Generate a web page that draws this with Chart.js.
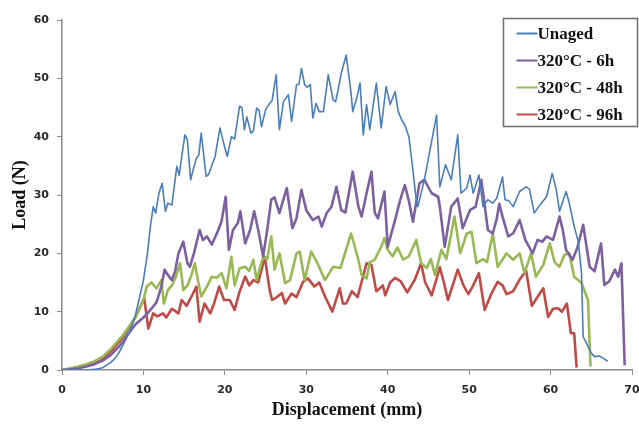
<!DOCTYPE html>
<html>
<head>
<meta charset="utf-8">
<title>Load vs Displacement</title>
<script src="https://cdn.jsdelivr.net/npm/chart.js@4.4.1/dist/chart.umd.min.js"></script>
<style>
  html, body { margin: 0; padding: 0; background: #fff; }
  canvas { display: block; }
</style>
</head>
<body>
<canvas id="loadChart" width="639" height="427"></canvas>
<script>
const xTicks = [0, 10, 20, 30, 40, 50, 60, 70];
const yTicks = [0, 10, 20, 30, 40, 50, 60];

const seriesNames = ["Unaged", "320°C - 6h", "320°C - 48h", "320°C - 96h"];

// [displacement mm, load N]
const unaged = [[0,0],[1,0],[2,0],[3,0],[4,0.1],[5,0.4],[6,1.3],[6.5,2],[7,3],[7.5,4.3],[8,5.7],[8.5,7.3],[9,9.3],[9.5,12.3],[10,15.4],[10.5,20],[10.8,24],[11.2,28],[11.5,26.9],[11.9,30.3],[12.3,32],[12.7,27.2],[13,28.6],[13.5,28.3],[14.1,34.9],[14.4,33.4],[14.7,36.6],[15.1,40.3],[15.4,39.4],[15.8,32.6],[16.1,34.3],[16.5,36.3],[16.8,36.8],[17.1,40.6],[17.7,33.2],[18,33.5],[18.8,36.6],[19.4,41.5],[19.9,38.6],[20.3,36.6],[20.8,40],[21.2,39.6],[21.8,45.2],[22.1,45],[22.4,41.2],[22.7,43.4],[23.2,40.6],[23.5,41],[23.9,44.9],[24.2,44.5],[24.5,41.7],[25,44.6],[25.5,45.7],[25.8,46.2],[26.3,50.6],[26.7,41.2],[27.2,46],[27.8,47.2],[28.2,42.6],[28.8,48.9],[29.1,49],[29.4,51.7],[29.8,48.9],[30.1,48.5],[30.5,48.9],[30.8,43.2],[31.2,45.7],[31.6,44.3],[32.1,44.3],[32.7,50.6],[33.3,46.3],[33.6,46],[33.9,48],[34.3,50.9],[34.9,54],[35.5,47.5],[35.7,44.3],[36.2,46.6],[36.6,49.2],[37,40.3],[37.4,45.5],[37.8,41.2],[38.6,49.2],[39.2,41.5],[39.8,48.6],[40.3,45.5],[40.9,47.7],[41.3,44.3],[41.7,42.9],[42.1,42],[42.6,40],[42.9,36.6],[43.5,29.2],[43.7,28],[44.5,32.6],[46,43.7],[46.4,31.4],[47.1,35.2],[47.8,32.6],[48.6,40.3],[49,30.3],[49.7,31.2],[50.1,33.4],[50.5,30.3],[51.2,33.4],[51.7,28],[52.3,29.2],[52.9,28.6],[53.4,29.5],[54.1,33.1],[54.4,29.2],[54.9,29],[55.4,28],[56.2,30.6],[57,31.4],[57.4,31],[58,26.9],[58.7,28.3],[59.5,29.7],[60.2,33.7],[60.7,30.9],[61.1,27.2],[61.9,30.6],[62.3,28.6],[62.9,24.6],[63.4,22],[63.8,16.6],[64,5.7],[64.4,4.6],[65,2.9],[65.4,2.3],[66,2.4],[66.5,2],[67,1.5]];

const aged6h = [[0,0],[1,0.1],[2,0.3],[3,0.6],[4,1],[5,1.6],[6,2.6],[7,4],[7.5,4.9],[8,5.9],[9,7.8],[10,9],[10.8,10.2],[11.6,11.6],[12.2,14.3],[12.6,17.2],[13,16.3],[13.5,15.4],[13.9,17],[14.3,20],[14.9,22],[15.4,18.3],[15.7,17.7],[16.2,20],[16.9,24],[17.3,22.3],[17.8,22.9],[18.4,21.5],[19.2,24],[19.6,25.5],[20.1,29.7],[20.5,20.6],[21,24],[21.6,25.2],[21.9,27.2],[22.5,21.7],[23.1,24],[23.6,27.2],[24.1,24],[24.7,19.5],[25.2,24],[25.7,29.2],[26.1,29.6],[26.7,26.9],[27.6,31.2],[28.3,24.3],[28.8,26],[29.4,30.9],[30,27.4],[30.8,25.7],[31.5,26.3],[31.9,24.6],[32.5,26.9],[33.1,28],[33.7,31.4],[34.3,27.4],[34.8,27],[35.7,34],[36.4,28],[36.8,26.3],[37.4,30.3],[38,34],[38.4,27],[38.8,26],[39.6,30.6],[40,21.1],[40.9,25.7],[41.5,29],[42.1,31.7],[42.6,29],[43.1,25.4],[43.9,32],[44.5,32.6],[45.4,30.3],[46.2,29.7],[46.4,28],[47,21.1],[47.8,28],[48.6,29.4],[49.2,24.3],[50.1,27.4],[50.8,28],[51.5,32.6],[52.3,24],[52.9,23.4],[53.4,26],[53.7,28.5],[54.1,26.3],[54.8,22.9],[55.4,23.4],[56.2,25.7],[56.9,22.3],[57.8,20],[58.4,22.3],[59,22],[59.5,22.9],[60.3,22.3],[61.1,26.3],[61.5,24],[61.9,20.6],[62.7,18.9],[63.3,21],[64,24.9],[64.8,17.7],[65.4,16.9],[66.2,21.7],[66.6,14.6],[67.2,15.2],[67.9,17.2],[68.3,16],[68.7,18.3],[69.1,0.8]];

const aged48h = [[0,0],[1,0.3],[2,0.6],[3,1],[4,1.5],[5,2.3],[6,3.6],[7,5.2],[7.5,6],[8,7],[9,9],[10,12],[10.4,14.3],[11,15],[11.6,14],[12.2,15.4],[12.5,11.4],[13,13.7],[13.5,14.5],[14,16],[14.5,18.3],[14.9,13.7],[15.4,14.5],[15.9,16.3],[16.3,18.3],[16.7,15.4],[17.1,12.6],[17.8,14.3],[18.4,16],[19,15.8],[19.6,16.6],[20.2,14],[20.8,19.4],[21.2,14.5],[21.8,17.4],[22.5,17.7],[23,17],[23.5,18.9],[23.9,15.4],[24.7,19.4],[25.2,19],[25.7,22.9],[26.1,17.2],[26.7,20],[27.4,14.9],[28,15.4],[28.8,20],[29.2,20.3],[29.8,15.4],[30.6,20.3],[31.3,18.5],[32.3,15.4],[33.3,17.7],[34.2,17.5],[35.5,23.4],[36.4,18.9],[36.8,16.3],[37.4,15.7],[37.8,18.5],[38.4,18.9],[39.2,21.1],[39.6,22.6],[40,20.6],[40.6,19.5],[41.2,21],[41.9,18.9],[42.6,19.5],[43.5,22.3],[44.1,18.3],[44.8,17.5],[45.3,19],[45.8,16.3],[46.6,20.6],[47.2,19],[48.2,26.3],[48.9,20],[49.7,23.4],[50.3,23.7],[50.9,18.3],[51.7,19],[52.2,18.5],[52.9,23.4],[53.5,17.7],[54.6,20],[55.4,18.9],[56.2,20],[56.8,16.6],[57.6,20],[58.2,16],[59.1,18],[59.9,21.7],[60.5,18.5],[61.1,17.7],[61.7,19.7],[62.3,20],[62.9,16],[63.8,14.9],[64.6,12],[64.9,0.6]];

const aged96h = [[0,0],[1,0.2],[2,0.5],[3,0.9],[4,1.4],[5,2],[6,3.2],[7,4.8],[7.5,5.7],[8,6.7],[9,9],[9.5,10.5],[10.1,12.3],[10.6,7.1],[11.2,9.7],[11.7,9.2],[12.4,9.7],[12.8,9],[13.5,10.5],[14.3,9.7],[14.7,12],[15.3,11],[15.9,12.6],[16.5,14.3],[16.9,8.3],[17.5,11.4],[18.2,9.7],[18.7,11.5],[19.3,14.3],[19.9,12],[20.6,12],[21.2,10.3],[21.8,13.4],[22.5,16],[23,14.5],[23.5,15.4],[24.1,15],[24.9,19.4],[25.5,13.7],[25.8,12],[26.4,12.5],[27,13.2],[27.4,11.4],[28.2,13.1],[28.8,12.5],[29.6,15.1],[30.2,15.7],[31,14.3],[31.6,15],[32.3,12.6],[33.2,10],[34.1,14],[34.5,11.4],[34.9,11.4],[35.6,13.5],[36.3,12.5],[37.4,18.3],[38,18],[38.6,13.5],[39.4,14.5],[39.7,12.8],[40.3,15],[40.9,15.8],[41.6,15.2],[42.4,13.3],[43.3,15.4],[44.1,18.3],[44.6,15],[45.4,12.8],[46.4,17.6],[46.9,15],[47.4,12],[48.6,17.2],[49.3,14.5],[49.9,13],[50.5,14.5],[51.2,16.6],[51.9,10.3],[52.7,13],[53.5,15.1],[54.1,14.5],[54.6,13],[55.4,13.5],[56.2,15.5],[57,17],[57.7,11],[58.4,12.5],[59.1,14],[59.7,9.1],[60.3,10.5],[60.9,10.6],[61.4,10],[62,11.4],[62.5,6.3],[62.9,6.3],[63.2,0.4]];

const lineColors = ["#4a7ebb", "#7d60a0", "#98b954", "#be4b48"];
const lineWidths = [1.6, 2.6, 2.6, 2.6];

function toPoints(pairs) {
  return pairs.map(p => ({ x: p[0], y: p[1] }));
}

const allSeries = [unaged, aged6h, aged48h, aged96h];

const datasets = allSeries.map((s, i) => ({
  label: seriesNames[i],
  data: toPoints(s),
  borderColor: lineColors[i],
  backgroundColor: lineColors[i],
  borderWidth: lineWidths[i],
  borderJoinStyle: "round",
  pointRadius: 0,
  tension: 0,
  fill: false,
}));

// legend drawn as a framed box in the upper right corner
const boxLegend = {
  id: "boxLegend",
  afterDraw(chart) {
    const ctx = chart.ctx;
    const left = 503.5, top = 18.5, w = 134, h = 108;
    ctx.save();
    ctx.fillStyle = "#fff";
    ctx.fillRect(left, top, w, h);
    ctx.strokeStyle = "#6e6e6e";
    ctx.lineWidth = 1.5;
    ctx.strokeRect(left, top, w, h);
    ctx.font = "bold 17px 'Liberation Serif', 'Times New Roman', serif";
    ctx.textBaseline = "middle";
    ctx.fillStyle = "#111";
    chart.data.datasets.forEach((ds, i) => {
      const y = top + 15 + i * 27;
      ctx.strokeStyle = ds.borderColor;
      ctx.lineWidth = 2;
      ctx.beginPath();
      ctx.moveTo(left + 13, y);
      ctx.lineTo(left + 34, y);
      ctx.stroke();
      ctx.fillText(ds.label, left + 34, y + 1);
    });
    ctx.restore();
  },
};

const ctx = document.getElementById("loadChart").getContext("2d");

new Chart(ctx, {
  type: "line",
  data: { datasets: datasets },
  options: {
    responsive: false,
    animation: false,
    layout: { padding: { left: 0, right: 7, top: 20, bottom: 0 } },
    plugins: {
      legend: { display: false },
      tooltip: { enabled: false },
    },
    scales: {
      x: {
        type: "linear",
        min: 0,
        max: 70,
        afterBuildTicks: (s) => { s.ticks = xTicks.map(v => ({ value: v })); },
        afterFit: (s) => { s.height = 57; s.paddingLeft = 0; s.paddingRight = 0; },
        grid: { drawOnChartArea: false, drawTicks: true, tickLength: 5, tickColor: "#8c8c8c" },
        border: { display: true, color: "#8c8c8c", width: 1.5 },
        ticks: {
          padding: 9,
          maxRotation: 0,
          color: "#2a2a2a",
          font: { family: "'DejaVu Sans', sans-serif", size: 11, weight: "bold" },
        },
        title: {
          display: true,
          text: "Displacement (mm)",
          color: "#111",
          padding: { top: 0, bottom: 6 },
          font: { family: "'Liberation Serif', 'Times New Roman', serif", size: 18, weight: "bold" },
        },
      },
      y: {
        type: "linear",
        min: 0,
        max: 60,
        afterBuildTicks: (s) => { s.ticks = yTicks.map(v => ({ value: v })); },
        afterFit: (s) => { s.width = 62; s.paddingTop = 0; s.paddingBottom = 0; },
        grid: { drawOnChartArea: false, drawTicks: true, tickLength: 5, tickColor: "#8c8c8c" },
        border: { display: true, color: "#8c8c8c", width: 1.5 },
        ticks: {
          padding: 8,
          color: "#2a2a2a",
          font: { family: "'DejaVu Sans', sans-serif", size: 11, weight: "bold" },
        },
        title: {
          display: true,
          text: "Load (N)",
          color: "#111",
          padding: { top: 10, bottom: 0 },
          font: { family: "'Liberation Serif', 'Times New Roman', serif", size: 18, weight: "bold" },
        },
      },
    },
  },
  plugins: [boxLegend],
});
</script>
</body>
</html>
